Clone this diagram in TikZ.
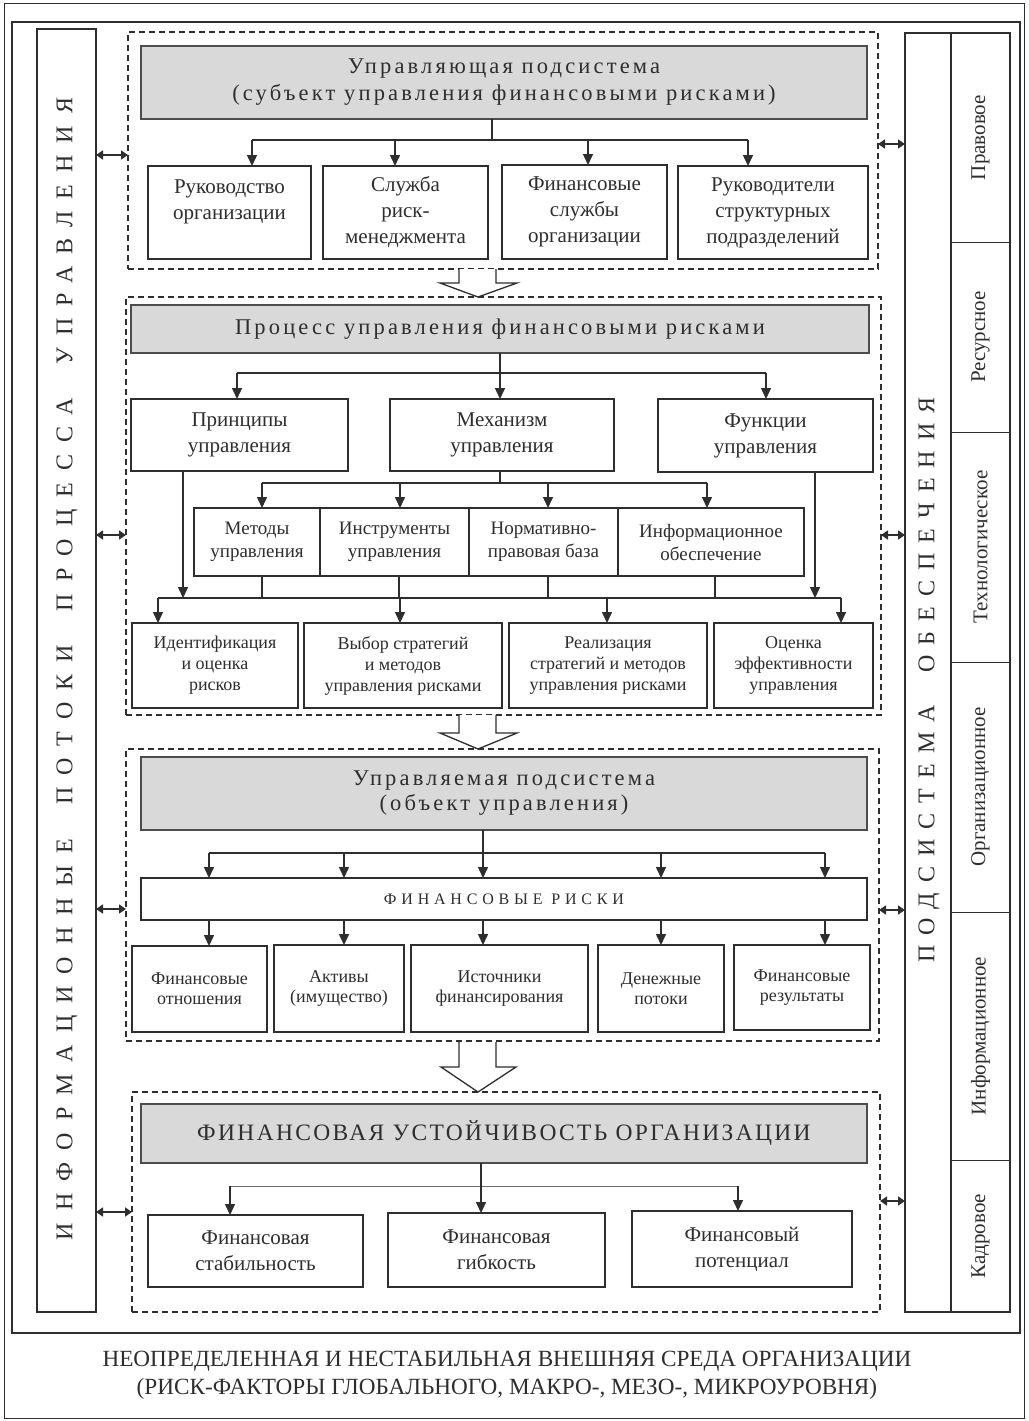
\documentclass[tikz,border=0pt]{standalone}
\usepackage{fontspec}
\setmainfont{Liberation Serif}
\usetikzlibrary{arrows.meta}
\definecolor{ink}{HTML}{2E2E2E}
\definecolor{gfill}{HTML}{D9D9D9}
\newcommand{\fs}[2]{\fontsize{#1}{#2}\selectfont}
\newcommand{\trk}[1]{\addfontfeature{LetterSpace=#1}}
\begin{document}
\begin{tikzpicture}[x=1pt,y=-1pt,
  every node/.style={inner sep=0pt,outer sep=0pt,text=ink},
  colbox/.style={draw=ink,line width=1.3pt},
  dbox/.style={draw=ink,line width=1.2pt,dash pattern=on 6pt off 4pt},
  gbox/.style={draw=ink!85,fill=gfill,line width=1.3pt,align=center},
  wbox/.style={draw=ink,fill=white,line width=1.3pt,align=center},
  ln/.style={draw=ink,line width=1.5pt},
  thin/.style={draw=ink!70,line width=0.8pt},
  arr/.style={ln,-{Triangle[length=11pt,width=10pt]}},
  darr/.style={ln,{Triangle[length=7pt,width=9pt]}-{Triangle[length=7pt,width=9pt]}},
  barr/.style={draw=ink,line width=1.3pt,fill=white,line join=miter},
  tA/.style={font={\fs{21}{26}}},
  tB/.style={font={\fs{19}{23}}},
  tC/.style={font={\fs{18}{21}}},
  tD/.style={font={\fs{18}{20}}}
]
\useasboundingbox (0,0) rectangle (1028,1421);
% outer frames
\draw[draw=ink,line width=1pt] (4,4) rectangle (1024,1418);
\draw[draw=ink,line width=2pt] (12,22) rectangle (1020,1333);

% left column
\node[colbox,minimum width=59,minimum height=1283] (lc) at (66.5,670.5) {};
\node[rotate=90] (lct) at (67,669) {\fs{24}{24}\trk{50}ИНФОРМАЦИОННЫЕ\hspace{16pt} ПОТОКИ\hspace{16pt} ПРОЦЕССА\hspace{16pt} УПРАВЛЕНИЯ};

% right column
\node[colbox,minimum width=105,minimum height=1279] (rc) at (957.5,672.5) {};
\coordinate (dv) at (951,0);
\draw[colbox] (dv |- rc.north) -- (dv |- rc.south);
\node[rotate=90] (rct) at (929,680) {\fs{24}{24}\trk{42}ПОДСИСТЕМА\hspace{16pt} ОБЕСПЕЧЕНИЯ};
\node[draw=ink,line width=0.8pt,minimum width=59,minimum height=209] (s1) at (980.5,137.5) {};
\node[draw=ink,line width=0.8pt,minimum width=59,minimum height=190] (s2) at (980.5,337) {};
\node[draw=ink,line width=0.8pt,minimum width=59,minimum height=230] (s3) at (980.5,547) {};
\node[draw=ink,line width=0.8pt,minimum width=59,minimum height=250] (s4) at (980.5,787) {};
\node[draw=ink,line width=0.8pt,minimum width=59,minimum height=248] (s5) at (980.5,1036) {};
\node[draw=ink,line width=0.8pt,minimum width=59,minimum height=152] (s6) at (980.5,1236) {};
\node[rotate=90,tA] (s1t) at (s1) {Правовое};
\node[rotate=90,tA] (s2t) at (s2) {Ресурсное};
\node[rotate=90,tA] (s3t) at (s3) {Технологическое};
\node[rotate=90,tA] (s4t) at (s4) {Организационное};
\node[rotate=90,tA] (s5t) at (s5) {Информационное};
\node[rotate=90,tA] (s6t) at (s6) {Кадровое};

% ===== Block 1
\node[dbox,minimum width=750,minimum height=237] (d1) at (503,150.5) {};
\node[gbox,minimum width=726,minimum height=73,font={\fs{22.5}{27}}] (g1) at (504,82.5)
  {\trk{14}Управляющая подсистема\\\trk{14}(субъект управления финансовыми рисками)};
\node[wbox,tA,minimum width=163,minimum height=93] (b11) at (229.5,212.5) {Руководство\\организации\\\mbox{}};
\node[wbox,tA,minimum width=165,minimum height=93] (b12) at (405.5,212.5) {Служба\\риск-\\менеджмента};
\node[wbox,tA,minimum width=165,minimum height=94] (b13) at (584.5,212) {Финансовые\\службы\\организации};
\node[wbox,tA,minimum width=190,minimum height=93] (b14) at (773,212.5) {Руководители\\структурных\\подразделений};
\coordinate (j1) at (492,140);
\coordinate (j1a) at (252,140);
\coordinate (j1b) at (395,140);
\coordinate (j1c) at (588,140);
\coordinate (j1d) at (748,140);
\draw[ln] (j1 |- g1.south) -- (j1);
\draw[ln] (j1a) -- (j1d);
\draw[arr] (j1a) -- (j1a |- b11.north);
\draw[arr] (j1b) -- (j1b |- b12.north);
\draw[arr] (j1c) -- (j1c |- b13.north);
\draw[arr] (j1d) -- (j1d |- b14.north);

% ===== Block 2
\node[dbox,minimum width=755,minimum height=418] (d2) at (503.5,506) {};
\node[gbox,minimum width=738,minimum height=48,font={\fs{22.5}{26}}] (g2) at (500,329)
  {\trk{14}Процесс управления финансовыми рисками};
\node[wbox,tA,minimum width=217,minimum height=72] (b21) at (239.5,435) {Принципы\\управления};
\node[wbox,tA,minimum width=224,minimum height=72] (b22) at (502,435) {Механизм\\управления};
\node[wbox,tA,minimum width=215,minimum height=73] (b23) at (765.5,435.5) {Функции\\управления};
\node[wbox,tB,minimum width=126,minimum height=68] (m1) at (257,542) {Методы\\управления};
\node[wbox,tB,minimum width=149,minimum height=68] (m2) at (394.5,542) {Инструменты\\управления};
\node[wbox,tB,minimum width=149,minimum height=68] (m3) at (543.5,542) {Нормативно-\\правовая база};
\node[wbox,tB,minimum width=186,minimum height=68] (m4) at (711,542) {Информационное\\обеспечение};
\node[wbox,tC,minimum width=166,minimum height=85] (r1) at (215,665.5) {Идентификация\\и оценка\\рисков};
\node[wbox,tC,minimum width=198,minimum height=85] (r2) at (403,665.5) {Выбор стратегий\\и методов\\управления рисками};
\node[wbox,tC,minimum width=198,minimum height=85] (r3) at (608,665.5) {Реализация\\стратегий и методов\\управления рисками};
\node[wbox,tC,minimum width=159,minimum height=85] (r4) at (793.5,665.5) {Оценка\\эффективности\\управления};
% first level
\coordinate (j2) at (500,373);
\coordinate (j2a) at (237,373);
\coordinate (j2d) at (766,373);
\draw[ln] (j2 |- g2.south) -- (j2);
\draw[ln] (j2a) -- (j2d);
\draw[arr] (j2a) -- (j2a |- b21.north);
\draw[arr] (j2) -- (j2 |- b22.north);
\draw[arr] (j2d) -- (j2d |- b23.north);
% second level
\coordinate (j3) at (500,483);
\coordinate (j3a) at (262,483);
\coordinate (j3b) at (400,483);
\coordinate (j3c) at (548,483);
\coordinate (j3d) at (707,483);
\draw[ln] (j3 |- b22.south) -- (j3);
\draw[ln] (j3a) -- (j3d);
\draw[arr] (j3a) -- (j3a |- m1.north);
\draw[arr] (j3b) -- (j3b |- m2.north);
\draw[arr] (j3c) -- (j3c |- m3.north);
\draw[arr] (j3d) -- (j3d |- m4.north);
% third level
\coordinate (k3a) at (262,598);
\coordinate (k3b) at (399,598);
\coordinate (k3c) at (548,598);
\coordinate (k3d) at (715,598);
\coordinate (h3L) at (158,598);
\coordinate (h3R) at (841,598);
\coordinate (h3p) at (183,598);
\coordinate (h3f) at (815,598);
\coordinate (h3r2) at (400,598);
\coordinate (h3r3) at (607,598);
\draw[ln] (k3a |- m1.south) -- (k3a);
\draw[ln] (k3b |- m2.south) -- (k3b);
\draw[ln] (k3c |- m3.south) -- (k3c);
\draw[ln] (k3d |- m4.south) -- (k3d);
\draw[ln] (h3L) -- (h3R);
\draw[arr] (h3p |- b21.south) -- (h3p);
\draw[arr] (h3f |- b23.south) -- (h3f);
\draw[arr] (h3L) -- (h3L |- r1.north);
\draw[arr] (h3r2) -- (h3r2 |- r2.north);
\draw[arr] (h3r3) -- (h3r3 |- r3.north);
\draw[arr] (h3R) -- (h3R |- r4.north);

% ===== Block 3
\node[dbox,minimum width=753,minimum height=292] (d3) at (502.5,895) {};
\node[gbox,minimum width=726,minimum height=73,font={\fs{22.5}{25}}] (g3) at (504,793.5)
  {\trk{14}Управляемая подсистема\\\trk{14}(объект управления)};
\node[wbox,minimum width=726,minimum height=42,font={\fs{16}{16}}] (fr) at (504,899) {\trk{30}ФИНАНСОВЫЕ РИСКИ};
\node[wbox,tD,minimum width=135,minimum height=86] (k1) at (199.5,989) {Финансовые\\отношения};
\node[wbox,tD,minimum width=130,minimum height=87] (k2) at (339,988.5) {Активы\\(имущество)};
\node[wbox,tD,minimum width=177,minimum height=87] (k3) at (499.5,988.5) {Источники\\финансирования};
\node[wbox,tD,minimum width=126,minimum height=87] (k4) at (661,988.5) {Денежные\\потоки};
\node[wbox,tD,minimum width=136,minimum height=85] (k5) at (802,987.5) {Финансовые\\результаты};
\coordinate (j4) at (483,853);
\coordinate (j4a) at (209,853);
\coordinate (j4b) at (344,853);
\coordinate (j4d) at (661,853);
\coordinate (j4e) at (825,853);
\draw[ln] (j4 |- g3.south) -- (j4);
\draw[ln] (j4a) -- (j4e);
\draw[arr] (j4a) -- (j4a |- fr.north);
\draw[arr] (j4b) -- (j4b |- fr.north);
\draw[arr] (j4) -- (j4 |- fr.north);
\draw[arr] (j4d) -- (j4d |- fr.north);
\draw[arr] (j4e) -- (j4e |- fr.north);
\draw[arr] (j4a |- fr.south) -- (j4a |- k1.north);
\draw[arr] (j4b |- fr.south) -- (j4b |- k2.north);
\draw[arr] (j4 |- fr.south) -- (j4 |- k3.north);
\draw[arr] (j4d |- fr.south) -- (j4d |- k4.north);
\draw[arr] (j4e |- fr.south) -- (j4e |- k5.north);

% ===== Block 4
\node[dbox,minimum width=748,minimum height=220] (d4) at (506,1202) {};
\node[gbox,minimum width=726,minimum height=59,font={\fs{23.5}{23.5}}] (g4) at (504,1133.5)
  {\trk{10}ФИНАНСОВАЯ УСТОЙЧИВОСТЬ ОРГАНИЗАЦИИ};
\node[wbox,tA,minimum width=215,minimum height=72] (f1) at (255.5,1251) {Финансовая\\стабильность};
\node[wbox,tA,minimum width=217,minimum height=74] (f2) at (496.5,1250) {Финансовая\\гибкость};
\node[wbox,tA,minimum width=220,minimum height=76] (f3) at (742,1249) {Финансовый\\потенциал};
\coordinate (j5) at (481,1186);
\coordinate (j5a) at (230,1186);
\coordinate (j5c) at (738,1186);
\draw[ln] (j5 |- g4.south) -- (j5);
\draw[thin] (j5a) -- (j5c);
\draw[arr] (j5a) -- (j5a |- f1.north);
\draw[arr] (j5) -- (j5 |- f2.north);
\draw[arr] (j5c) -- (j5c |- f3.north);

% hollow block arrows
\draw[barr] (459,269) -- (459,283) -- (440,283) -- (478,297) -- (517,283) -- (496,283) -- (496,269);
\draw[barr] (459,715) -- (459,733) -- (440,733) -- (478,749) -- (517,733) -- (496,733) -- (496,715);
\draw[barr] (459,1042) -- (459,1067) -- (441,1067) -- (478,1092) -- (516,1067) -- (496,1067) -- (496,1042);

% double arrows
\coordinate (y1) at (0,155);  \coordinate (y1r) at (0,144);
\coordinate (y2) at (0,535);
\coordinate (y3) at (0,909);  \coordinate (y3r) at (0,910);
\coordinate (y4) at (0,1212); \coordinate (y4r) at (0,1201);
\draw[darr] (lc.east |- y1) -- (d1.west |- y1);
\draw[darr] (d1.east |- y1r) -- (rc.west |- y1r);
\draw[darr] (lc.east |- y2) -- (d2.west |- y2);
\draw[darr] (d2.east |- y2) -- (rc.west |- y2);
\draw[darr] (lc.east |- y3) -- (d3.west |- y3);
\draw[darr] (d3.east |- y3r) -- (rc.west |- y3r);
\draw[darr] (lc.east |- y4) -- (d4.west |- y4);
\draw[darr] (d4.east |- y4r) -- (rc.west |- y4r);

% bottom caption
\node[align=center,font={\fs{23.2}{28}}] (env) at (507,1375)
  {НЕОПРЕДЕЛЕННАЯ И НЕСТАБИЛЬНАЯ ВНЕШНЯЯ СРЕДА ОРГАНИЗАЦИИ\\(РИСК-ФАКТОРЫ ГЛОБАЛЬНОГО, МАКРО-, МЕЗО-, МИКРОУРОВНЯ)};
\end{tikzpicture}
\end{document}
